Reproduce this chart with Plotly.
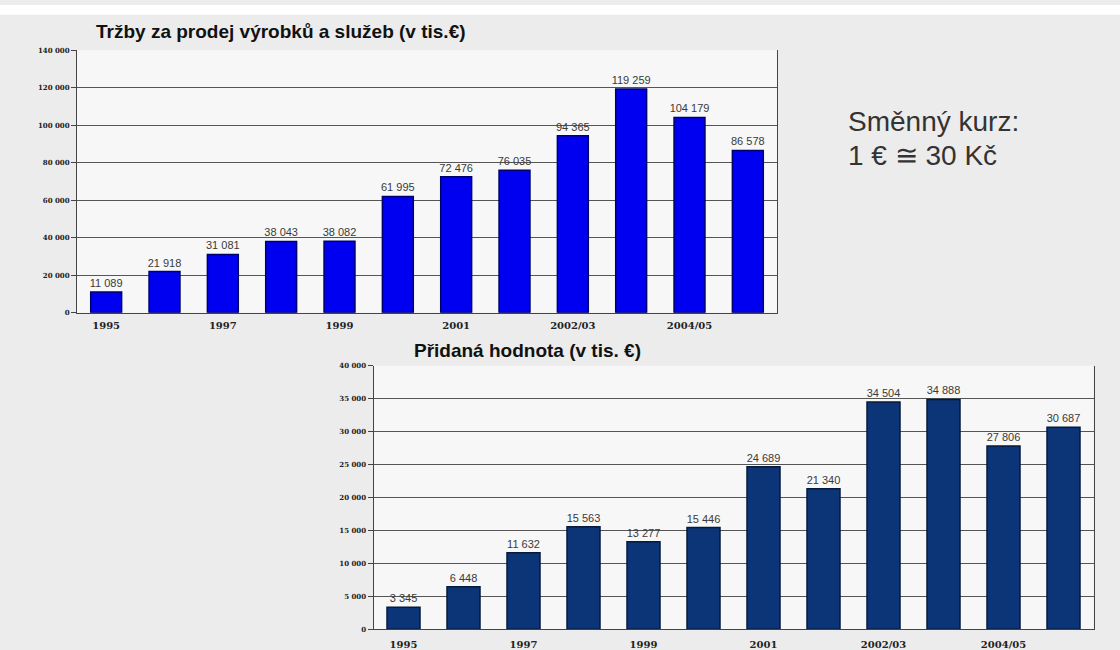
import plotly.graph_objects as go

W, H = 1120, 650

categories = ["1995", "1996", "1997", "1998", "1999", "2000", "2001", "2002",
              "2002/03", "2003/04", "2004/05", "2005/06"]
tick_labels = ["1995", "1997", "1999", "2001", "2002/03", "2004/05"]

sales = [11089, 21918, 31081, 38043, 38082, 61995, 72476, 76035,
         94365, 119259, 104179, 86578]
added_value = [3345, 6448, 11632, 15563, 13277, 15446, 24689, 21340,
               34504, 34888, 27806, 30687]

top_title = "Tržby za prodej výrobků a služeb (v tis.€)"
bottom_title = "Přidaná hodnota (v tis. €)"
note_lines = ["Směnný kurz:", "1 € ≅ 30 Kč"]


def fmt(v):
    return f"{v:,}".replace(",", " ")


fig = go.Figure()

fig.add_trace(go.Bar(
    x=categories, y=sales, xaxis="x", yaxis="y",
    width=0.53,
    marker=dict(color="#0000f0", line=dict(color="#00006a", width=1.5)),
    text=[fmt(v) for v in sales], textposition="outside",
    constraintext="none",
    textfont=dict(family="Liberation Sans, Arial", size=11, color="#3a3a3a"),
    cliponaxis=False, showlegend=False,
))

fig.add_trace(go.Bar(
    x=categories, y=added_value, xaxis="x2", yaxis="y2",
    width=0.55,
    marker=dict(color="#0b3577", line=dict(color="#061a3c", width=1.5)),
    text=[fmt(v) for v in added_value], textposition="outside",
    constraintext="none",
    textfont=dict(family="Liberation Sans, Arial", size=11, color="#3a3a3a"),
    cliponaxis=False, showlegend=False,
))

tickfont_x = dict(family="DejaVu Serif", size=10, color="#222222", weight="bold")
tickfont_y = dict(family="DejaVu Serif", size=7, color="#222222", weight="bold")

xt = dict(
    type="category", range=[-0.5, 11.5],
    tickmode="array", tickvals=tick_labels, ticktext=tick_labels,
    tickfont=tickfont_x, showgrid=False, showline=True, linecolor="#444444",
    linewidth=1, ticks="outside", tickcolor="rgba(0,0,0,0)", mirror=False,
)
yt = dict(
    showgrid=True, gridcolor="#555555", gridwidth=1,
    showline=True, linecolor="#444444", linewidth=1, mirror=True,
    ticks="outside", ticklen=5, tickcolor="#444444",
    tickfont=tickfont_y, tickformat=",d", zeroline=False,
)

fig.update_layout(
    width=W, height=H,
    margin=dict(l=0, r=0, t=0, b=0),
    paper_bgcolor="#ececec",
    plot_bgcolor="#f7f7f7",
    separators=", ",
    xaxis=dict(xt, domain=[77 / W, 777 / W], anchor="y", ticklen=3),
    yaxis=dict(yt, domain=[1 - 313 / H, 1 - 46 / H], range=[0, 140000],
               dtick=20000, anchor="x"),
    xaxis2=dict(xt, domain=[373.5 / W, 1093.5 / W], anchor="y2", ticklen=6),
    yaxis2=dict(yt, domain=[1 - 635 / H, 1 - 367 / H], range=[0, 40000],
                dtick=5000, anchor="x2"),
    bargap=0.47,
    shapes=[
        dict(type="rect", xref="paper", yref="paper", x0=0, x1=1,
             y0=1 - 10 / H, y1=1, fillcolor="white", line=dict(width=0),
             layer="below"),
    ],
    annotations=[
        dict(text="<b>" + top_title + "</b>", xref="paper", yref="paper",
             x=94 / W, y=1 - 27 / H, xanchor="left", yanchor="middle",
             showarrow=False,
             font=dict(family="Liberation Sans, Arial", size=19, color="#111111")),
        dict(text="<b>" + bottom_title + "</b>", xref="paper", yref="paper",
             x=412 / W, y=1 - 351 / H, xanchor="left", yanchor="middle",
             showarrow=False,
             font=dict(family="Liberation Sans, Arial", size=19, color="#111111")),
        dict(text=note_lines[0], xref="paper", yref="paper",
             x=846 / W, y=1 - 118 / H, xanchor="left", yanchor="middle",
             showarrow=False,
             font=dict(family="Liberation Sans, Arial", size=28, color="#333333")),
        dict(text=note_lines[1], xref="paper", yref="paper",
             x=846 / W, y=1 - 153 / H, xanchor="left", yanchor="middle",
             showarrow=False,
             font=dict(family="Liberation Sans, Arial", size=28, color="#333333")),
    ],
)

fig.write_html("out.html")
